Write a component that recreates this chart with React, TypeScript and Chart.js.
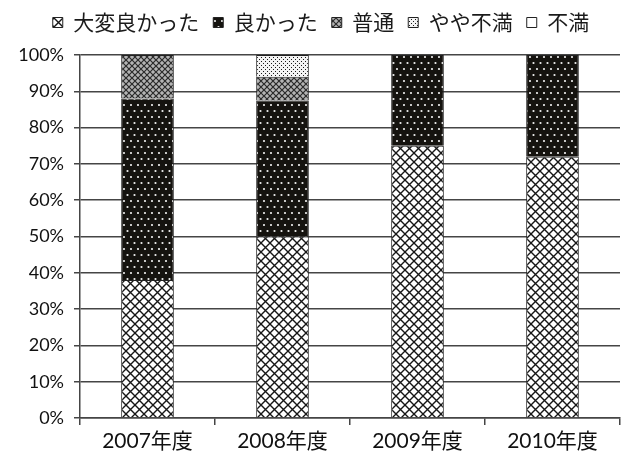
import React, { useEffect, useRef } from "react";
import { Chart, registerables } from "chart.js";

Chart.register(...registerables);

const categories = ["2007年度", "2008年度", "2009年度", "2010年度"];
const seriesNames = ["大変良かった", "良かった", "普通", "やや不満", "不満"];
const veryGood = [38, 50, 75, 72];
const good = [50, 37.5, 25, 28];
const neutral = [12, 6.5, 0, 0];
const slightlyBad = [0, 6, 0, 0];
const bad = [0, 0, 0, 0];
const yTicks = [0, 10, 20, 30, 40, 50, 60, 70, 80, 90, 100];

function makeTile(w: number, h: number, draw: (c: CanvasRenderingContext2D) => void): CanvasPattern {
  const cv = document.createElement("canvas");
  cv.width = w;
  cv.height = h;
  const c = cv.getContext("2d")!;
  draw(c);
  const ctx = document.createElement("canvas").getContext("2d")!;
  return ctx.createPattern(cv, "repeat")!;
}

function crossHatch(size: number, bg: string, fg: string, lw: number) {
  return makeTile(size, size, (c) => {
    c.fillStyle = bg;
    c.fillRect(0, 0, size, size);
    c.strokeStyle = fg;
    c.lineWidth = lw;
    c.beginPath();
    c.moveTo(-1, -1);
    c.lineTo(size + 1, size + 1);
    c.moveTo(size + 1, -1);
    c.lineTo(-1, size + 1);
    c.stroke();
  });
}

export default function App() {
  const ref = useRef<HTMLCanvasElement | null>(null);
  useEffect(() => {
    if (!ref.current) return;
    const pVeryGood = crossHatch(9, "#ffffff", "#161616", 1.4);
    const pGood = makeTile(7, 12, (c) => {
      c.fillStyle = "#15130f";
      c.fillRect(0, 0, 7, 12);
      c.fillStyle = "#f0f0f0";
      c.beginPath();
      c.arc(1.5, 3, 1.1, 0, Math.PI * 2);
      c.arc(5, 9, 1.1, 0, Math.PI * 2);
      c.fill();
    });
    const pNeutral = makeTile(6, 6, (c) => {
      c.fillStyle = "#b4b4b4";
      c.fillRect(0, 0, 6, 6);
      c.strokeStyle = "#2a2a2a";
      c.lineWidth = 1.2;
      c.beginPath();
      c.moveTo(-1, -1);
      c.lineTo(7, 7);
      c.moveTo(7, -1);
      c.lineTo(-1, 7);
      c.stroke();
    });
    const pSlight = makeTile(4, 4, (c) => {
      c.fillStyle = "#f4f4f4";
      c.fillRect(0, 0, 4, 4);
      c.fillStyle = "#1a1a1a";
      c.fillRect(1, 1, 1, 1);
      c.fillRect(3, 3, 1, 1);
    });
    const pBad = makeTile(4, 4, (c) => {
      c.fillStyle = "#ffffff";
      c.fillRect(0, 0, 4, 4);
    });

    const values = [veryGood, good, neutral, slightlyBad, bad];
    const fills = [pVeryGood, pGood, pNeutral, pSlight, pBad];
    const gridColor = "#454545";

    const chart = new Chart(ref.current, {
      type: "bar",
      data: {
        labels: categories,
        datasets: seriesNames.map((name, i) => ({
          label: name,
          data: values[i],
          backgroundColor: fills[i],
          borderColor: "#222222",
          borderWidth: 1,
          barPercentage: 0.39,
          categoryPercentage: 1,
        })),
      },
      options: {
        animation: false,
        responsive: false,
        maintainAspectRatio: false,
        layout: { padding: { left: 0, right: 3, top: 0, bottom: 0 } },
        plugins: {
          legend: {
            position: "top",
            align: "center",
            labels: {
              boxWidth: 10,
              boxHeight: 10,
              padding: 14,
              color: "#1a1a1a",
              font: { family: "'Noto Sans CJK JP'", size: 21 },
            },
          },
          tooltip: { enabled: false },
        },
        scales: {
          x: {
            stacked: true,
            grid: {
              display: true,
              drawOnChartArea: false,
              offset: true,
              tickLength: 7,
              color: gridColor,
              lineWidth: 1.5,
            },
            border: { display: true, color: gridColor, width: 1.5 },
            ticks: {
              color: "#111111",
              padding: 4,
              font: { family: "Lato, 'Noto Sans CJK JP'", size: 21 },
            },
            afterFit: (s: any) => {
              s.height = 43;
            },
          },
          y: {
            stacked: true,
            min: 0,
            max: 100,
            grid: {
              color: gridColor,
              lineWidth: 1.5,
              tickLength: 6,
            },
            border: { display: true, color: gridColor, width: 1.5 },
            afterBuildTicks: (s: any) => {
              s.ticks = yTicks.map((v) => ({ value: v }));
            },
            ticks: {
              color: "#111111",
              padding: 10,
              font: { family: "Lato", size: 18 },
              callback: (v: any) => v + "%",
            },
            afterFit: (s: any) => {
              s.width = 80;
            },
          },
        },
      },
      plugins: [
        {
          id: "legendHeight",
          beforeInit(chart: any) {
            const orig = chart.legend.fit;
            chart.legend.fit = function () {
              orig.call(this);
              this.height = 55;
            };
          },
          afterLayout(chart: any) {
            const lg = chart.legend;
            lg.left += 11;
            lg.right += 11;
            lg.top -= 2;
          },
        },
      ],
    } as any);
    return () => chart.destroy();
  }, []);

  return (
    <div style={{ position: "fixed", left: 0, top: 0, width: 623, height: 461, background: "#fff" }}>
      <canvas ref={ref} width={623} height={461} style={{ width: 623, height: 461, display: "block" }} />
    </div>
  );
}
